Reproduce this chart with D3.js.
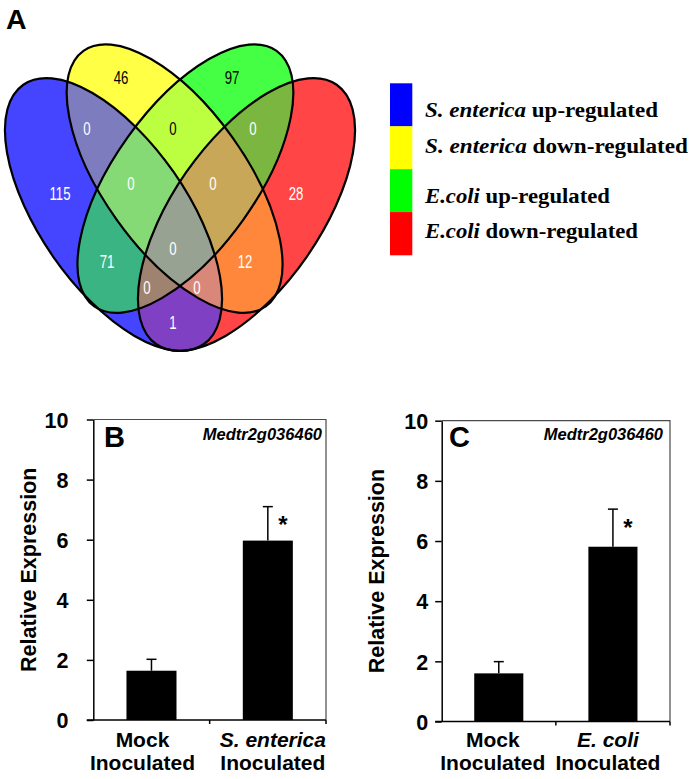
<!DOCTYPE html>
<html><head><meta charset="utf-8">
<script src="https://cdn.jsdelivr.net/npm/d3@7"></script>
<style>
html,body{margin:0;padding:0;background:#fff;}
svg{display:block;}
</style></head><body>
<svg id="chart" width="693" height="779"></svg>
<script>
// ================= DATA =================
// Venn (panel A)
const setKeys = ["B", "Y", "G", "R"];
const legendItalic = ["S. enterica", "S. enterica", "E.coli", "E.coli"];
const legendRest = [" up-regulated", " down-regulated", " up-regulated", " down-regulated"];
const regionSets = ["B", "Y", "G", "R", "BY", "YG", "GR", "BYG", "YGR", "BG", "YR", "BYGR", "BGR", "BYR", "BR"];
const regionCounts = [115, 46, 97, 28, 0, 0, 0, 0, 0, 71, 12, 0, 0, 0, 1];

// Bar panels (B, C)
const yTicks = [0, 2, 4, 6, 8, 10];
const geneName = "Medtr2g036460";
const catLine1B = ["Mock", "S. enterica"];
const catLine2B = ["Inoculated", "Inoculated"];
const meanB = [1.64, 5.97];
const errB = [0.38, 1.13];
const sigB = ["", "*"];
const catLine1C = ["Mock", "E. coli"];
const catLine2C = ["Inoculated", "Inoculated"];
const meanC = [1.60, 5.81];
const errC = [0.39, 1.25];
const sigC = ["", "*"];

// ================= LAYOUT / STYLE =================
const SANS = "'Liberation Sans', Arial, Helvetica, sans-serif";
const SERIF = "'Liberation Serif', 'Times New Roman', serif";
const svg = d3.select("#chart");
const defs = svg.append("defs");

// ellipse geometry (layout)
const ellipseGeom = {
  B: {cx: 113.5, cy: 214.5, rx: 158, ry: 73.6, rot: 55.2},
  Y: {cx: 174.6, cy: 178.6, rx: 157, ry: 71, rot: 54.5},
  G: {cx: 185.4, cy: 178.6, rx: 157, ry: 71, rot: -54.5},
  R: {cx: 246.5, cy: 214.5, rx: 158, ry: 73.6, rot: -55.2}
};
const regionColor = {
  B: "#4545ff", Y: "#ffff45", G: "#45ff45", R: "#ff4545",
  BY: "#7c7cbe", YG: "#bcff40", GR: "#7ab640",
  BYG: "#86da76", YGR: "#c8a858", BG: "#3ab482", YR: "#ff873c",
  BYGR: "#98a292", BGR: "#a08270", BYR: "#d88778", BR: "#8040c4"
};
const regionLabelPos = {
  B: [60, 193], Y: [121, 77], G: [232, 77], R: [296, 193],
  BY: [87, 128], YG: [173, 128], GR: [253, 128],
  BYG: [131, 183], YGR: [213, 183], BG: [107, 261], YR: [245, 261],
  BYGR: [173, 248], BGR: [147, 287], BYR: [197, 287], BR: [173, 322]
};
const darkLabel = new Set(["Y", "G", "YG"]);

setKeys.forEach(k => {
  const e = ellipseGeom[k];
  defs.append("clipPath").attr("id", "clip-" + k)
    .append("ellipse")
    .attr("cx", e.cx).attr("cy", e.cy).attr("rx", e.rx).attr("ry", e.ry)
    .attr("transform", `rotate(${e.rot},${e.cx},${e.cy})`);
});

const venn = svg.append("g");
// paint regions, smaller memberships first (supersets overwrite)
const order = d3.range(regionSets.length).sort((a, b) => regionSets[a].length - regionSets[b].length);
order.forEach(i => {
  const key = regionSets[i];
  let g = venn;
  key.split("").forEach(m => { g = g.append("g").attr("clip-path", `url(#clip-${m})`); });
  g.append("rect").attr("x", 0).attr("y", 30).attr("width", 370).attr("height", 340)
    .attr("fill", regionColor[key]);
});
// outlines
venn.selectAll("ellipse.outline").data(setKeys).join("ellipse")
  .attr("class", "outline")
  .attr("cx", k => ellipseGeom[k].cx).attr("cy", k => ellipseGeom[k].cy)
  .attr("rx", k => ellipseGeom[k].rx).attr("ry", k => ellipseGeom[k].ry)
  .attr("transform", k => `rotate(${ellipseGeom[k].rot},${ellipseGeom[k].cx},${ellipseGeom[k].cy})`)
  .attr("fill", "none").attr("stroke", "#000").attr("stroke-width", 2.2);
// counts
venn.selectAll("text.count").data(regionSets).join("text")
  .attr("class", "count")
  .attr("transform", k => `translate(${regionLabelPos[k][0]},${regionLabelPos[k][1]}) scale(1,1.4)`)
  .attr("text-anchor", "middle").attr("dy", "0.36em")
  .attr("font-family", SANS).attr("font-size", 13.2)
  .attr("fill", k => darkLabel.has(k) ? "#000" : "#fff")
  .text((k, i) => regionCounts[i]);

// panel label A
svg.append("text").attr("x", 6).attr("y", 28.5).attr("font-family", SANS)
  .attr("font-weight", "bold").attr("font-size", 28.5).text("A");

// legend
const legendColor = ["#0000ff", "#ffff00", "#00ff00", "#ff0000"];
const legY = d3.scaleBand().domain(d3.range(setKeys.length)).range([83.3, 255]);
svg.selectAll("rect.leg").data(setKeys).join("rect").attr("class", "leg")
  .attr("x", 390).attr("width", 22.3)
  .attr("y", (d, i) => legY(i)).attr("height", legY.bandwidth() + 0.3)
  .attr("fill", (d, i) => legendColor[i]);
const legTextY = [116.7, 152.7, 203, 238];
const legTextW = [233, 263, 185, 213];
const lt = svg.selectAll("text.leg").data(setKeys).join("text").attr("class", "leg")
  .attr("x", 425).attr("y", (d, i) => legTextY[i])
  .attr("font-family", SERIF).attr("font-weight", "bold").attr("font-size", 20)
  .attr("textLength", (d, i) => legTextW[i]).attr("lengthAdjust", "spacingAndGlyphs");
lt.append("tspan").attr("font-style", "italic").text((d, i) => legendItalic[i]);
lt.append("tspan").text((d, i) => legendRest[i]);

// ================= BAR PANELS =================
function barPanel(cfg) {
  const g = svg.append("g");
  const n = cfg.means.length;
  const x = d3.scaleBand().domain(d3.range(n)).range([cfg.x0, cfg.x1])
    .paddingInner(0.57).paddingOuter(0.285);
  const y = d3.scaleLinear().domain([0, 10]).range([cfg.y0, cfg.y1]);

  // frame top & right
  g.append("path").attr("d", `M${cfg.x0},${y(10)}H${cfg.x1}V${y(0)}`)
    .attr("fill", "none").attr("stroke", "#4a4a4a").attr("stroke-width", 1.2);

  // bars
  g.selectAll("rect.bar").data(cfg.means).join("rect").attr("class", "bar")
    .attr("x", (d, i) => x(i)).attr("width", x.bandwidth())
    .attr("y", d => y(d)).attr("height", d => y(0) - y(d)).attr("fill", "#000");

  // error bars (upper only)
  const eb = g.selectAll("g.err").data(cfg.means).join("g").attr("class", "err");
  eb.append("line")
    .attr("x1", (d, i) => x(i) + x.bandwidth() / 2).attr("x2", (d, i) => x(i) + x.bandwidth() / 2)
    .attr("y1", d => y(d)).attr("y2", (d, i) => y(d + cfg.errs[i]))
    .attr("stroke", "#000").attr("stroke-width", 1.5);
  eb.append("line")
    .attr("x1", (d, i) => x(i) + x.bandwidth() / 2 - 5).attr("x2", (d, i) => x(i) + x.bandwidth() / 2 + 5)
    .attr("y1", (d, i) => y(d + cfg.errs[i])).attr("y2", (d, i) => y(d + cfg.errs[i]))
    .attr("stroke", "#000").attr("stroke-width", 1.5);

  // significance
  g.selectAll("text.sig").data(cfg.means).join("text").attr("class", "sig")
    .attr("x", (d, i) => x(i) + x.bandwidth() / 2 + 15)
    .attr("y", (d, i) => y(d + cfg.errs[i]) + 26.5)
    .attr("text-anchor", "middle").attr("font-family", SANS).attr("font-weight", "bold")
    .attr("font-size", 24).text((d, i) => cfg.sig[i]);

  // y axis
  const ya = g.append("g").attr("transform", `translate(${cfg.x0},0)`)
    .call(d3.axisLeft(y).tickValues(yTicks).tickSize(6.5).tickSizeOuter(0)
      .tickPadding(cfg.labelGap - 6.5).tickFormat(d3.format("d")));
  ya.select(".domain").attr("stroke", "#000").attr("stroke-width", 1.5);
  ya.selectAll(".tick line").attr("stroke", "#000").attr("stroke-width", 1.5);
  ya.selectAll(".tick text").attr("font-family", SANS).attr("font-weight", "bold")
    .attr("font-size", 21.5).attr("fill", "#000").attr("dy", "0.36em");

  // x axis: line plus ticks at category boundaries
  const step = x.step();
  const bounds = d3.range(n + 1).map(i => cfg.x0 + i * step);
  g.append("line").attr("x1", cfg.x0 - 6.5).attr("x2", cfg.x1).attr("y1", y(0)).attr("y2", y(0))
    .attr("stroke", "#000").attr("stroke-width", 1.5);
  g.selectAll("line.xt").data(bounds.slice(1)).join("line").attr("class", "xt")
    .attr("x1", d => d).attr("x2", d => d).attr("y1", y(0)).attr("y2", y(0) + 4)
    .attr("stroke", "#000").attr("stroke-width", 1.5);

  // category labels
  const cl = g.selectAll("text.cat").data(cfg.means).join("text").attr("class", "cat")
    .attr("text-anchor", "middle").attr("font-family", SANS).attr("font-weight", "bold")
    .attr("font-size", 21);
  cl.append("tspan")
    .attr("x", (d, i) => x(i) + x.bandwidth() / 2 + cfg.labelDx[i]).attr("y", 747)
    .attr("font-style", (d, i) => i > 0 ? "italic" : "normal")
    .text((d, i) => cfg.line1[i]);
  cl.append("tspan")
    .attr("x", (d, i) => x(i) + x.bandwidth() / 2 + cfg.labelDx[i]).attr("y", 770)
    .text((d, i) => cfg.line2[i]);

  // axis title
  g.append("text")
    .attr("transform", `translate(${cfg.x0 - 57.5},${(y(0) + y(10)) / 2}) rotate(-90)`)
    .attr("text-anchor", "middle").attr("font-family", SANS).attr("font-weight", "bold")
    .attr("font-size", 21.5).text("Relative Expression");

  // panel letter and gene name
  g.append("text").attr("x", cfg.letterX).attr("y", 447).attr("font-family", SANS)
    .attr("font-weight", "bold").attr("font-size", 29).text(cfg.letter);
  g.append("text").attr("x", cfg.geneX).attr("y", 439.5).attr("text-anchor", "end")
    .attr("font-family", SANS).attr("font-weight", "bold").attr("font-style", "italic")
    .attr("font-size", 16.5).text(geneName);
}

barPanel({
  x0: 93.3, x1: 326, y0: 720, y1: 419.5, labelGap: 24.8,
  means: meanB, errs: errB, sig: sigB, line1: catLine1B, line2: catLine2B,
  labelDx: [-9, 5], letter: "B", letterX: 104, geneX: 322
});
barPanel({
  x0: 441.7, x1: 670, y0: 721.5, y1: 420.7, labelGap: 13.5,
  means: meanC, errs: errC, sig: sigC, line1: catLine1C, line2: catLine2C,
  labelDx: [-6, -5], letter: "C", letterX: 449, geneX: 663
});
</script>
</body></html>
